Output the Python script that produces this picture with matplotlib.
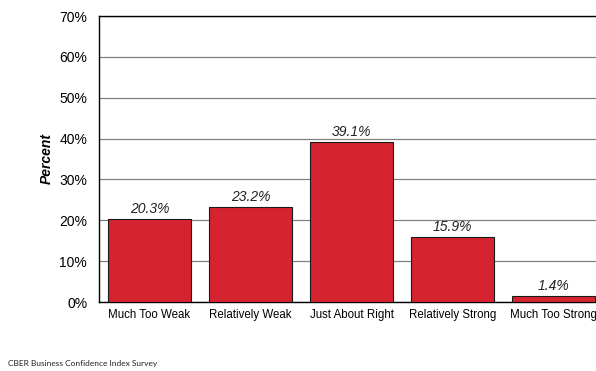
import matplotlib
matplotlib.use("Agg")
import matplotlib.pyplot as plt
from matplotlib.ticker import FuncFormatter

categories = ["Much Too Weak", "Relatively Weak", "Just About Right", "Relatively Strong", "Much Too Strong"]
values = [20.3, 23.2, 39.1, 15.9, 1.4]
yticks = [0, 10, 20, 30, 40, 50, 60, 70]

plt.rcParams['font.family'] = ['Liberation Sans', 'DejaVu Sans']

fig = plt.figure(figsize=(5.96, 3.71), dpi=100)
ax = fig.add_axes([99/596, 1-302/371, 505/596, (302-16)/371])

x = list(range(len(categories)))
bars = ax.bar(x, values, width=0.83, color="#D52430", edgecolor="#1a1a1a", linewidth=0.8, zorder=3)
for xi, v in zip(x, values):
    ax.annotate(f"{v:.1f}%", (xi, v), xytext=(0, 2.5), textcoords="offset points",
                ha="center", va="bottom", fontsize=10, style="italic", color="#222222")

ax.set_xlim(-0.5, len(categories) - 0.5)
ax.set_ylim(0, 70)
ax.set_yticks(yticks)
ax.yaxis.set_major_formatter(FuncFormatter(lambda v, p: f"{v:.0f}%"))
ax.set_xticks(x)
ax.set_xticklabels(categories, fontsize=8.3)
ax.tick_params(axis="y", labelsize=10, length=0, pad=8.5)
ax.tick_params(axis="x", length=0, pad=5)
ax.grid(axis="y", color="#808080", linewidth=0.9, zorder=0)
for s in ["top", "left", "bottom"]:
    ax.spines[s].set_color("black")
    ax.spines[s].set_linewidth(1.0)
ax.spines["right"].set_visible(False)
ax.set_ylabel("Percent", fontsize=10, fontweight="bold", style="italic", labelpad=4)

fig.text(8/596, 1-367/371, "CBER Business Confidence Index Survey", fontsize=6,
         family=["Lato", "DejaVu Sans"], va="bottom", ha="left", color="#222222")

fig.savefig("out.png", dpi=100)
